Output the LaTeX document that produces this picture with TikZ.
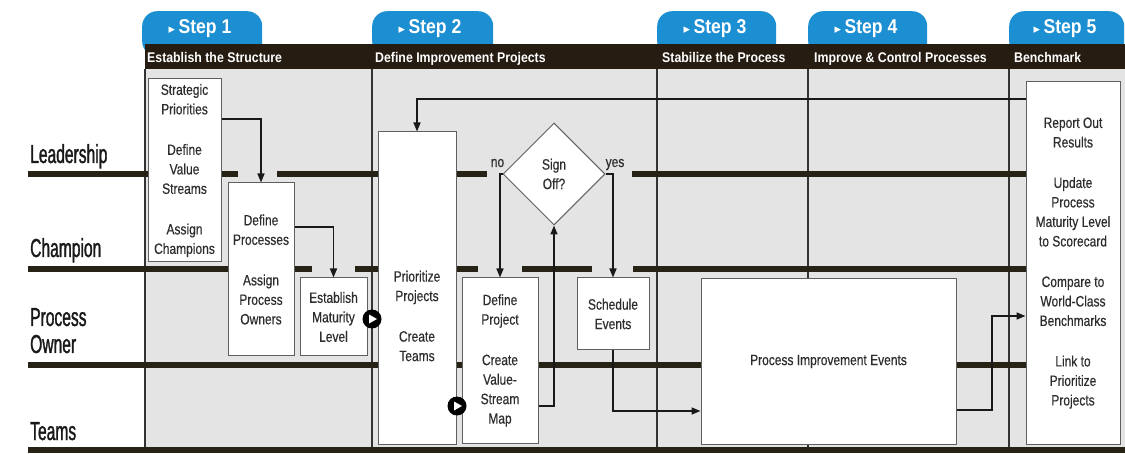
\documentclass[tikz,border=0pt]{standalone}
\usepackage{fontspec}
\setmainfont{Liberation Sans}
\newfontfamily\boxfont[FakeStretch=0.8,FakeBold=0.4]{Liberation Sans}
\newfontfamily\lanefont[FakeStretch=0.6,FakeBold=1.2]{Liberation Sans}
\newfontfamily\headfont[FakeStretch=0.88]{Liberation Sans}
\newfontfamily\symfont{DejaVu Sans}
\usetikzlibrary{arrows.meta,shapes.geometric}
\definecolor{tabblue}{RGB}{28,142,210}
\definecolor{hdrbrown}{RGB}{38,28,18}
\definecolor{lanecol}{RGB}{38,34,22}
\definecolor{bodygray}{RGB}{228,228,228}
\definecolor{boxline}{RGB}{95,95,95}
\definecolor{txtcol}{RGB}{45,45,45}
\tikzset{
 procbox/.style={draw=boxline,line width=1pt,fill=white,inner sep=0pt,font=\boxfont\fontsize{15}{19.5}\selectfont,text=txtcol,align=center},
 boxtext/.style={inner sep=0pt,font=\boxfont\fontsize{15}{19.5}\selectfont,text=txtcol,align=center},
 decision/.style={diamond,draw=boxline,line width=1pt,fill=white,inner sep=0pt,minimum width=102pt,minimum height=102pt,font=\boxfont\fontsize{15}{19.5}\selectfont,text=txtcol,align=center},
 conn/.style={draw=black!90,line width=1.6pt,-{Triangle[length=9pt,width=7pt]}},
 lanebar/.style={draw=lanecol,line width=6pt},
 gridline/.style={draw=black!80,line width=1.2pt},
 tabshape/.style={fill=tabblue,rounded corners=15pt,inner sep=0pt,anchor=north west,minimum height=45pt},
 tabtext/.style={text=white,inner sep=0pt,font=\headfont\bfseries\fontsize{20}{24}\selectfont},
 hdrtext/.style={text=white,font=\headfont\bfseries\fontsize{14}{16}\selectfont,anchor=base west,inner sep=0pt},
 lanelabel/.style={text=black!90,font=\lanefont\fontsize{26}{28}\selectfont,anchor=base west,inner sep=0pt,align=left},
 edgelabel/.style={text=txtcol,font=\boxfont\fontsize{15}{18}\selectfont,anchor=base,inner sep=0pt},
 playicon/.style={circle,fill=black,minimum size=19pt,inner sep=0pt}
}
\newcommand{\playmark}[1]{\fill[white] ([xshift=-3pt,yshift=4.5pt]#1.center) -- ([xshift=5pt]#1.center) -- ([xshift=-3pt,yshift=-4.5pt]#1.center) -- cycle;}
\newcommand{\tabarrow}{{\symfont\fontsize{13}{13}\selectfont ▸}}
\begin{document}
\begin{tikzpicture}[x=1pt,y=-1pt]
\useasboundingbox (0,0) rectangle (1125,454);
\fill[white] (0,0) rectangle (1125,454);
% body
\fill[bodygray] (145,69) rectangle (1125,452);
% tabs
\node[tabshape,minimum width=120pt] (tab1) at (142,11) {};
\node[tabshape,minimum width=121pt] (tab2) at (372,11) {};
\node[tabshape,minimum width=119pt] (tab3) at (657,11) {};
\node[tabshape,minimum width=119pt] (tab4) at (808,11) {};
\node[tabshape,minimum width=115pt] (tab5) at (1009,11) {};
% header bar
\fill[hdrbrown] (145,44) rectangle (1125,69);
\node[tabtext] (tab1t) at (200,29) {\tabarrow\,Step 1};
\node[tabtext] (tab2t) at (430,29) {\tabarrow\,Step 2};
\node[tabtext] (tab3t) at (715,29) {\tabarrow\,Step 3};
\node[tabtext] (tab4t) at (866,29) {\tabarrow\,Step 4};
\node[tabtext] (tab5t) at (1065,29) {\tabarrow\,Step 5};
\node[hdrtext] (h1) at (147,63) {Establish the Structure};
\node[hdrtext] (h2) at (375,63) {Define Improvement Projects};
\node[hdrtext] (h3) at (662,63) {Stabilize the Process};
\node[hdrtext] (h4) at (814,63) {Improve \& Control Processes};
\node[hdrtext] (h5) at (1014,63) {Benchmark};
% grid lines
\foreach \gx in {145,372,657,808,1009}{\draw[gridline] (\gx,69) -- (\gx,452);}
% lane bars
\draw[lanebar] (28,174) -- (238,174);
\draw[lanebar] (277,174) -- (487,174);
\draw[lanebar] (632,174) -- (1026,174);
\draw[lanebar] (28,269) -- (312,269);
\draw[lanebar] (355,269) -- (478,269);
\draw[lanebar] (522,269) -- (592,269);
\draw[lanebar] (633,269) -- (1026,269);
\draw[lanebar] (28,365) -- (1026,365);
\draw[lanebar] (28,450) -- (1125,450);
% lane labels
\node[lanelabel] (lead) at (30,163) {Leadership};
\node[lanelabel] (champ) at (30,257) {Champion};
\node[lanelabel] (powner) at (30,326) {Process};
\node[lanelabel] (powner2) at (30,353) {Owner};
\node[lanelabel] (teams) at (30,440) {Teams};
% boxes
\node[procbox,minimum width=73pt,minimum height=183pt] (strat) at (184.5,170.5) {Strategic\\Priorities\\[21pt]Define\\Value\\Streams\\[21pt]Assign\\Champions};
\node[procbox,minimum width=66pt,minimum height=173pt] (defproc) at (261,269.5) {Define\\Processes\\[21pt]Assign\\Process\\Owners};
\node[procbox,minimum width=67pt,minimum height=78pt] (estab) at (333.5,317) {Establish\\Maturity\\Level};
\node[procbox,minimum width=78pt,minimum height=312pt] (prio) at (417,288) {};
\node[boxtext] (priot) at (417,316) {Prioritize\\Projects\\[21pt]Create\\Teams};
\node[decision] (sign) at (554,174) {Sign\\Off?};
\node[procbox,minimum width=76pt,minimum height=165pt] (defproj) at (500,360.5) {Define\\Project\\[21pt]Create\\Value-\\Stream\\Map};
\node[procbox,minimum width=72pt,minimum height=72pt] (sched) at (613,314) {Schedule\\Events};
\node[procbox,minimum width=255pt,minimum height=165pt] (pie) at (828.5,361.5) {Process Improvement Events};
\node[procbox,minimum width=94pt,minimum height=362pt] (bench) at (1073,263) {Report Out\\Results\\[21pt]Update\\Process\\Maturity Level\\to Scorecard\\[21pt]Compare to\\World-Class\\Benchmarks\\[21pt]Link to\\Prioritize\\Projects};
% labels
\node[edgelabel] (nolab) at (497.5,167) {no};
\node[edgelabel] (yeslab) at (615,167) {yes};
% connectors
\coordinate (bendj) at (992,316);
\draw[conn] (strat.east |- 0,119) -| (defproc.north);
\draw[conn] (defproc.east |- 0,227) -| (estab.north);
\draw[conn] (bench.west |- 0,99) -| (prio.north);
\draw[conn] (defproj.east |- 0,406) -| (sign.south);
\draw[conn] (sign.west) -| (defproj.north);
\draw[conn] (sign.east) -| (sched.north);
\draw[conn] (sched.south) |- (pie.west |- 0,411);
\draw[conn] (pie.east |- 0,410) -| (bendj) -- (bench.west |- bendj);
% continuation icons
\node[playicon] (play1) at (372,319) {};
\playmark{play1}
\node[playicon] (play2) at (457,406) {};
\playmark{play2}
\end{tikzpicture}
\end{document}
